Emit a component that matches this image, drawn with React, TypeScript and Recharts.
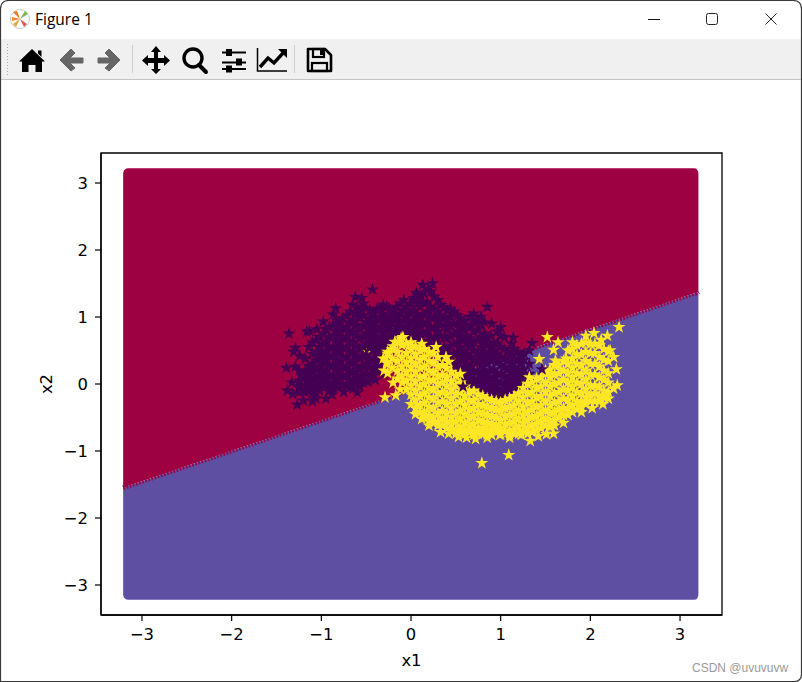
import React from 'react';
import { ComposedChart, Area, Line, Scatter, XAxis, YAxis, ReferenceArea, Label } from 'recharts';

const axisTicks = [-3, -2, -1, 0, 1, 2, 3];
const xDomain = [-3.457, 3.468];
const yDomain = [-3.448, 3.448];
const regionX = [-3.21, -3.2, -3.175, -3.15, 3.15, 3.18, 3.195, 3.205];
const regionBoundary = [-1.55, -1.545, -1.535, -1.52, 1.35, 1.36, 1.37, 1.38];
const regionTop = [3.15, 3.19, 3.215, 3.22, 3.22, 3.215, 3.19, 3.15];
const regionBottom = [-3.15, -3.19, -3.215, -3.22, -3.22, -3.215, -3.19, -3.15];

const yellowUnder = [[-0.49, 0.49], [-0.18, 0.86]];

const darkPoints = [
  [-1.36,.75],[-.43,1.41],[-.62,1.30],[-.55,1.28],[-.84,1.13],[-.87,1.04],[-1.16,.78],[-1.13,.79],[-1.29,.54],[-1.31,.48],
  [-1.39,.24],[-1.29,.26],[-1.38,-.10],[-1.27,-.31],[-1.06,-.22],[-.88,-.16],[-.48,.03],[.24,1.50],[.13,1.48],[.19,1.42],[.06,1.36],
  [.85,1.15],[.7,1.05],[.78,1.0],[.9,.9],[1.0,.85],[1.14,.69],[1.35,.61],
  [-1.2,-.25],[-1.1,-.26],[-.95,-.22],[-.75,-.12],[-.6,-.13],[-1.33,.02],[-1.32,-.15],[-.98,.93],[-1.05,.82],[-1.24,.42],[-.4,.06],[-.3,.15],
];
const darkColumns: [number, number[]][] = [
  [-1.25,[.2,.05,-.05,-.12]],[-1.22,[.12,-.03,-.1]],[-1.18,[.38,.2,.1,-.02,-.12]],[-1.14,[.55,.27,.14,.02,-.1]],
  [-1.1,[.62,.45,.3,.18,.06,-.06,-.15]],[-1.06,[.65,.48,.35,.22,.09,-.03,-.13]],[-1.02,[.7,.55,.4,.25,.12,0,-.1]],
  [-.98,[.75,.6,.46,.32,.18,.05,-.05]],[-.95,[.82,.62,.48,.36,.2,.08,-.03]],[-.91,[.85,.7,.55,.42,.28,.14,0,-.1]],
  [-.87,[.88,.72,.55,.42,.28,.13,.02,-.08]],[-.83,[.95,.8,.64,.5,.36,.22,.09,-.03]],[-.8,[.9,.76,.62,.47,.33,.2,.06,-.05]],
  [-.76,[.98,.83,.68,.54,.4,.27,.13,0]],[-.72,[1.02,.85,.7,.55,.4,.25,.12,-.03]],[-.68,[1.08,.92,.77,.62,.47,.32,.18,.05,-.02]],
  [-.65,[1.18,.95,.78,.62,.48,.34,.18,.05,-.07]],[-.61,[1.15,1.05,.88,.72,.57,.42,.27,.13,.02]],[-.57,[1.1,.98,.82,.68,.52,.38,.22,.08,-.04]],
  [-.53,[1.2,1.02,.86,.7,.55,.41,.26,.12,.02]],[-.5,[1.13,.92,.75,.6,.44,.3,.15]],[-.46,[1.1,.98,.83,.69,.54,.38,.25,.12]],
  [-.42,[1.05,.9,.78,.62,.5,.35,.22,.12]],[-.38,[1.12,.97,.84,.7,.56,.43,.3,.2]],[-.35,[1.12,.98,.82,.68,.55,.4,.3]],
  [-.31,[1.18,1.04,.9,.75,.6,.47,.35]],[-.27,[1.15,.95,.8,.67,.52,.4]],[-.24,[1.12,1.0,.86,.7,.56,.45]],
  [-.2,[1.08,.92,.78,.62]],[-.16,[1.15,.99,.85,.7,.78]],[-.12,[1.2,1.05,.9,.78,.65]],[-.08,[1.25,1.1,.95,.82,.68]],
  [-.05,[1.15,1.0,.85,.72,.6]],[-.01,[1.2,1.06,.92,.78,.66]],[.03,[1.28,1.1,.95,.82,.7,.6]],[.07,[1.33,1.2,1.03,.9,.76,.64]],
  [.1,[1.3,1.15,.98,.85,.72]],[.14,[1.36,1.22,1.04,.9,.75,.62]],[.18,[1.22,1.08,.92,.78,.62]],[.22,[1.38,1.15,1.0,.85,.7,.58]],
  [.26,[1.3,1.12,1.0,.85,.7,.58]],[.3,[1.25,1.08,.94,.78,.62,.45]],[.33,[1.18,1.02,.88,.72,.5,.35]],[.37,[1.14,.98,.85,.7,.55,.42,.3]],
  [.4,[1.1,.95,.82,.68,.52,.38]],[.44,[1.12,1.0,.86,.72,.57,.43,.3]],[.48,[1.08,.9,.75,.6,.45,.3,.18]],[.52,[1.02,.9,.78,.63,.48,.33,.2,.08]],
  [.55,[.98,.85,.7,.55,.42,.25,.1]],[.59,[.95,.8,.66,.5,.36,.22,.1,0]],[.62,[.88,.72,.6,.45,.3,.18,.05]],[.66,[1.0,.85,.68,.55,.4,.26,.12,0]],
  [.7,[.92,.78,.62,.5,.35,.2,.08,-.02]],[.74,[.95,.8,.65,.45,.33,.18,.05,-.03]],[.78,[.88,.7,.55,.4,.27,.12,0,-.08]],[.82,[.92,.75,.62,.48,.35,.2,.08,-.04]],
  [.85,[.68,.58,.42,.3,.15,.03,-.05,-.14]],[.89,[.72,.55,.46,.35,.2,.07,-.05,-.14]],[.92,[.62,.5,.38,.22,.1,-.02,-.1,-.17]],[.96,[.78,.6,.45,.32,.16,.04,-.07,-.17]],
  [1.0,[.72,.55,.4,.28,.15,.02,-.12,-.2]],[1.04,[.7,.52,.38,.25,.12,0,-.1,-.18]],[1.08,[.48,.35,.22,.08,-.03,-.1,-.18]],[1.12,[.6,.44,.3,.17,.05,-.06,-.14]],
  [1.15,[.52,.38,.25,.12,0,-.1]],[1.19,[.48,.35,.2,.08,-.04,-.12]],[1.22,[.42,.3,.15,.03,-.06]],[1.26,[.46,.36,.22,.1,0]],[1.32,[.5,.3,.15,.05]],
];

const yellowPoints = [
  [2.32,.85],[2.04,.76],[2.19,.72],[1.52,.70],[1.64,.62],[1.59,.51],[1.43,.37],[1.61,.35],[1.73,.38],[2.20,.49],[2.26,.40],[2.29,.22],[2.26,-.07],[2.14,-.30],
  [1.33,-.85],[1.09,-1.06],[.79,-1.18],[.53,-.79],[1.59,-.74],[1.51,-.75],[1.23,-.76],[.99,-.76],[-.29,-.2],[-.17,-.17],[-.11,.68],[-.2,.56],
  [.2,-.62],[.33,-.72],[.42,-.74],[.62,-.8],[.72,-.82],[.85,-.8],[1.1,-.8],[1.42,-.78],[1.7,-.58],[1.9,-.42],[2.02,-.36],[2.2,-.22],[2.3,-.02],
  [0,.62],[.12,.6],[.28,.55],[.42,.33],[.55,.15],[1.32,.1],[1.8,.62],[1.95,.72],[2.12,.66],[2.22,.5],[1.5,.2],
  [-.31,.38],[-.3,.2],[-.2,.02],[-.12,-.08],[0,-.3],[.05,-.45],[.12,-.52],[-.18,.63],[-.09,.7],[-.26,.48],[-.27,.33],[.39,.4],
];
const yellowColumns: [number, number[]][] = [
  [-.26,[.45,.3,.16]],[-.21,[.52,.38,.24]],[-.15,[.62,.48,.34,.2,.08]],[-.1,[.58,.4,.26,.12,.02]],[-.05,[.6,.46,.32,.18,.05,-.08]],
  [0,[.52,.38,.25,.11,-.02,-.16]],[.05,[.56,.44,.3,.18,.04,-.1,-.24,-.36]],[.1,[.5,.36,.24,.1,-.04,-.18,-.32,-.42]],
  [.15,[.52,.4,.26,.12,0,-.14,-.28,-.42,-.5]],[.2,[.48,.34,.2,.06,-.06,-.2,-.34,-.47,-.56]],[.25,[.46,.32,.18,.06,-.08,-.22,-.36,-.5,-.58]],
  [.3,[.4,.26,.12,0,-.14,-.28,-.44,-.56,-.62]],[.35,[.28,.14,.02,-.12,-.26,-.4,-.52,-.62]],[.4,[.24,.1,-.03,-.16,-.3,-.44,-.56,-.66]],
  [.45,[.18,.04,-.08,-.22,-.36,-.5,-.6,-.68]],[.5,[.12,-.02,-.15,-.3,-.44,-.56,-.68,-.74]],[.55,[.02,-.12,-.26,-.4,-.52,-.64,-.72]],
  [.6,[-.04,-.18,-.32,-.45,-.58,-.68,-.75]],[.65,[-.12,-.24,-.38,-.5,-.62,-.72]],[.7,[-.1,-.24,-.36,-.48,-.6,-.7,-.76]],
  [.75,[-.16,-.3,-.42,-.54,-.66,-.74]],[.8,[-.18,-.32,-.44,-.56,-.66,-.75]],[.85,[-.22,-.34,-.46,-.58,-.68,-.75]],
  [.9,[-.24,-.36,-.48,-.6,-.7,-.76]],[.95,[-.26,-.38,-.5,-.62,-.7]],[1.0,[-.28,-.4,-.54,-.66,-.75]],[1.05,[-.24,-.36,-.48,-.6,-.7]],
  [1.1,[-.22,-.34,-.46,-.58,-.7,-.76]],[1.15,[-.18,-.32,-.44,-.56,-.68,-.74]],[1.2,[-.14,-.26,-.4,-.52,-.64,-.74]],
  [1.25,[-.06,-.2,-.34,-.46,-.58,-.7]],[1.3,[0,-.14,-.28,-.42,-.54,-.66,-.74]],[1.35,[.02,-.12,-.26,-.38,-.5,-.62,-.72]],
  [1.4,[.08,-.06,-.2,-.34,-.48,-.6,-.7]],[1.45,[.1,-.04,-.18,-.32,-.44,-.56,-.66]],[1.5,[.16,.02,-.12,-.26,-.4,-.52,-.62]],
  [1.55,[.22,.1,-.04,-.18,-.32,-.44,-.56,-.64]],[1.6,[.28,.14,0,-.14,-.28,-.42,-.54,-.62]],[1.65,[.28,.16,.02,-.12,-.26,-.38,-.5]],
  [1.7,[.34,.2,.06,-.08,-.22,-.36,-.46]],[1.75,[.5,.3,.16,.02,-.1,-.24,-.36,-.46]],[1.8,[.52,.38,.24,.1,-.04,-.18,-.32,-.42]],
  [1.85,[.58,.44,.3,.16,.02,-.12,-.26,-.38]],[1.9,[.6,.44,.28,.14,0,-.14,-.26,-.34]],[1.95,[.62,.48,.34,.2,.06,-.08,-.2,-.3]],
  [2.0,[.6,.46,.3,.14,-.02,-.16,-.26]],[2.05,[.6,.46,.3,.14,-.02,-.14,-.26]],[2.1,[.58,.4,.26,.1,-.04,-.18,-.26]],
  [2.15,[.52,.36,.2,.06,-.1,-.2]],[2.2,[.34,.16,.02,-.12]],
];

const darkOnTop = [[1.46, 0.22], [0.71, 0.02], [0.58, -0.04]];

const RED = '#9e0142';
const PURPLE = '#5e4fa2';
const DARK = '#440154';
const YELLOW = '#fde725';
const FONT_SIZE = 16.4;

const regionRows = regionX.map((x, i) => ({
  x,
  boundary: regionBoundary[i],
  upper: [regionBoundary[i], regionTop[i]],
  lower: [regionBottom[i], regionBoundary[i]],
}));
const toRows = (pts: number[][]) => pts.map(([x, y]) => ({ x, y }));
const fromColumns = (cols: [number, number[]][]) => cols.flatMap(([x, ys]) => ys.map((y) => ({ x, y })));

function starShape(color: string) {
  return (props: any) => {
    const { cx, cy } = props;
    const R = 6.9;
    const r = R * 0.382;
    let d = '';
    for (let i = 0; i < 10; i++) {
      const rad = i % 2 === 0 ? R : r;
      const a = (i * Math.PI) / 5 - Math.PI / 2;
      d += `${i === 0 ? 'M' : 'L'}${cx + rad * Math.cos(a)} ${cy + rad * Math.sin(a)}`;
    }
    return <path d={d + 'Z'} fill={color} />;
  };
}

const fmt = (v: number) => String(v).replace('-', '\u2212');
const tickStyle = { fontFamily: 'DejaVu Sans', fontSize: FONT_SIZE, fill: '#000' };

function WindowChrome() {
  const Gray = '#666666';
  return (
    <svg width={802} height={682} style={{ position: 'absolute', left: 0, top: 0 }}>
      <rect x={0} y={39} width={802} height={40} fill="#f0f0f0" />
      <line x1={0} x2={802} y1={79.5} y2={79.5} stroke="#c4c4c4" />
      <circle cx={20} cy={19} r={9.5} fill="#fff" stroke="#c9c9c9" />
      <path d="M20 19 L13 12 L17 11Z" fill="#e8791f" />
      <path d="M20 19 L12 17 L12 21Z" fill="#ee8a2a" />
      <path d="M20 19 L25 11 L28 14Z" fill="#7db84a" />
      <path d="M20 19 L27 24 L24 27Z" fill="#d65a5a" />
      <path d="M20 19 L16 27 L13 24Z" fill="#e8a33a" />
      <text x={35} y={25} fontFamily="Open Sans" fontSize={15.5} fill="#000">Figure 1</text>
      <line x1={648} x2={660} y1={19.5} y2={19.5} stroke="#111" />
      <rect x={706.5} y={13.5} width={11} height={11} rx={2} fill="none" stroke="#222" />
      <path d="M765.5 13.5 L776.5 24.5 M776.5 13.5 L765.5 24.5" stroke="#222" fill="none" />
      <line x1={7.5} x2={7.5} y1={44} y2={76} stroke="#aaa" strokeDasharray="1 2" />
      <line x1={132.5} x2={132.5} y1={45} y2={73} stroke="#cfcfcf" />
      <line x1={294.5} x2={294.5} y1={45} y2={73} stroke="#cfcfcf" />
      <path d="M32 49 L45 61.5 L42 61.5 L42 72 L35.5 72 L35.5 65 L28.5 65 L28.5 72 L22 72 L22 61.5 L19 61.5Z M38 50.5 H41.5 V57 L38 53.5Z" fill="#000" />
      <path d="M71 49 L75 53 L70 58 H83 V63 H70 L75 68 L71 71 L60 60Z" fill={Gray} stroke={Gray} strokeLinejoin="round" strokeWidth={1} />
      <path d="M109 49 L105 53 L110 58 H98 V63 H110 L105 68 L109 71 L120 60Z" fill={Gray} stroke={Gray} strokeLinejoin="round" strokeWidth={1} />
      <path d="M156 46 L161 52 H158 V58 H164 V55 L170 60.5 L164 66 V63 H158 V69 H161 L156 74 L151 69 H154 V63 H148 V66 L142 60.5 L148 55 V58 H154 V52 H151Z" fill="#000" />
      <circle cx={193} cy={58} r={9} fill="none" stroke="#000" strokeWidth={3.4} />
      <line x1={199} x2={206} y1={65} y2={72} stroke="#000" strokeWidth={4} strokeLinecap="round" />
      <path d="M222 52.5 H246 M222 62.5 H246 M222 69 H246" stroke="#000" strokeWidth={2} />
      <rect x={226} y={49} width={6} height={7} fill="#000" />
      <rect x={236} y={58.5} width={6} height={7} fill="#000" />
      <rect x={226} y={65.5} width={6} height={7} fill="#000" />
      <path d="M257.5 48 V71 H287" fill="none" stroke="#000" strokeWidth={1.5} />
      <path d="M260 67 L268 58 L274 63 L284 52" fill="none" stroke="#000" strokeWidth={3.4} />
      <path d="M278 49 H287 V58Z" fill="#000" />
      <path d="M308 49 H325 L331 55 V71 H308Z" fill="none" stroke="#000" strokeWidth={2.6} strokeLinejoin="round" />
      <rect x={313} y={49} width={11} height={8} fill="none" stroke="#000" strokeWidth={2.2} />
      <rect x={320} y={50} width={3} height={5} fill="#000" />
      <rect x={312} y={63} width={15} height={8} fill="none" stroke="#000" strokeWidth={2.2} />
    </svg>
  );
}

function WindowFrame() {
  return (
    <svg width={802} height={682} style={{ position: 'absolute', left: 0, top: 0, pointerEvents: 'none' }}>
      <path d="M0.5 681.5 V9 Q0.5 0.5 9 0.5 H793 Q801.5 0.5 801.5 9 V674 Q801.5 681.5 794 681.5Z" fill="none" stroke="#3a3a3a" strokeWidth={1.2} />
      <text x={692} y={672} fontFamily="Liberation Sans" fontSize={12} fill="#9a9a9a">CSDN @uvuvuvw</text>
    </svg>
  );
}

export default function App() {
  return (
    <div style={{ position: 'fixed', left: 0, top: 0, width: 802, height: 682, background: '#fff', overflow: 'hidden' }}>
      <WindowChrome />
      <div style={{ position: 'absolute', left: 0, top: 0 }}>
        <ComposedChart
          width={802}
          height={682}
          data={regionRows}
          margin={{ top: 153, right: 80, bottom: 14, left: 41 }}
        >
          <XAxis
            dataKey="x"
            type="number"
            domain={xDomain}
            ticks={axisTicks}
            tickFormatter={fmt}
            allowDataOverflow
            height={53}
            tickSize={6}
            tickMargin={7}
            interval={0}
            tick={tickStyle}
            axisLine={{ stroke: '#000', strokeWidth: 1.3 }}
            tickLine={{ stroke: '#000', strokeWidth: 1.2 }}
          >
            <Label value="x1" position="insideBottom" offset={2} style={{ fontFamily: 'DejaVu Sans', fontSize: FONT_SIZE, fill: '#000' }} />
          </XAxis>
          <YAxis
            dataKey="y"
            type="number"
            domain={yDomain}
            ticks={axisTicks}
            tickFormatter={fmt}
            allowDataOverflow
            width={60}
            tickSize={6}
            tickMargin={7}
            interval={0}
            tick={tickStyle}
            axisLine={{ stroke: '#000', strokeWidth: 1.3 }}
            tickLine={{ stroke: '#000', strokeWidth: 1.2 }}
          >
            <Label value="x2" angle={-90} position="insideLeft" offset={5} style={{ fontFamily: 'DejaVu Sans', fontSize: FONT_SIZE, fill: '#000', textAnchor: 'middle' }} />
          </YAxis>
          <Area dataKey="upper" type="linear" fill={RED} fillOpacity={1} stroke="none" isAnimationActive={false} dot={false} activeDot={false} />
          <Area dataKey="lower" type="linear" fill={PURPLE} fillOpacity={1} stroke="none" isAnimationActive={false} dot={false} activeDot={false} />
          <Line dataKey="boundary" type="linear" stroke={RED} strokeWidth={5} strokeDasharray="1.7 1.6" isAnimationActive={false} dot={false} activeDot={false} />
          <Scatter data={toRows(yellowUnder)} dataKey="y" shape={starShape(YELLOW)} isAnimationActive={false} />
          <Scatter data={[...toRows(darkPoints), ...fromColumns(darkColumns)]} dataKey="y" shape={starShape(DARK)} isAnimationActive={false} />
          <Scatter data={[...toRows(yellowPoints), ...fromColumns(yellowColumns)]} dataKey="y" shape={starShape(YELLOW)} isAnimationActive={false} />
          <Scatter data={toRows(darkOnTop)} dataKey="y" shape={starShape(DARK)} isAnimationActive={false} />
          <ReferenceArea x1={xDomain[0]} x2={xDomain[1]} y1={yDomain[0]} y2={yDomain[1]} fill="none" stroke="#000" strokeWidth={1.3} ifOverflow="visible" />
        </ComposedChart>
      </div>
      <WindowFrame />
    </div>
  );
}
